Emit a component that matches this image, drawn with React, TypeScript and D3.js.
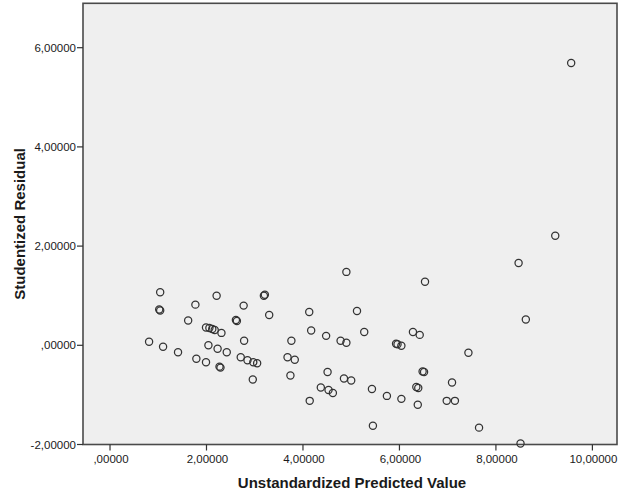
import React, { useEffect } from "react";
import * as d3 from "d3";

const predicted: number[] = [
  0.81, 1.04, 1.02, 1.04, 1.10, 1.41, 1.62, 1.77, 1.79, 1.99,
  2.06, 2.12, 2.17, 1.99, 2.04, 2.21, 2.23, 2.31, 2.27, 2.29,
  2.42, 2.61, 2.63, 2.71, 2.77, 2.78, 2.85, 2.97, 3.05, 2.96,
  3.19, 3.21, 3.30, 3.68, 3.83, 3.76, 3.74, 4.13, 4.17, 4.14,
  4.37, 4.48, 4.51, 4.53, 4.62, 4.78, 4.90, 4.85, 5.00, 4.90,
  5.12, 5.27, 5.43, 5.45, 5.74, 5.93, 5.96, 6.04, 6.04, 6.28,
  6.42, 6.35, 6.39, 6.38, 6.48, 6.51, 6.53, 6.98, 7.15, 7.09,
  7.43, 7.65, 8.47, 8.51, 8.62, 9.23, 9.56,
];

const residual: number[] = [
  0.07, 1.07, 0.72, 0.70, -0.03, -0.14, 0.50, 0.82, -0.27, 0.36,
  0.35, 0.33, 0.31, -0.34, 0.00, 1.00, -0.07, 0.25, -0.43, -0.45,
  -0.14, 0.51, 0.49, -0.24, 0.80, 0.09, -0.30, -0.34, -0.36, -0.69,
  1.00, 1.02, 0.61, -0.24, -0.29, 0.09, -0.61, 0.67, 0.30, -1.12,
  -0.85, 0.19, -0.54, -0.90, -0.96, 0.09, 0.05, -0.67, -0.71, 1.48,
  0.69, 0.27, -0.88, -1.62, -1.02, 0.03, 0.02, -0.01, -1.08, 0.27,
  0.21, -0.84, -0.86, -1.20, -0.53, -0.54, 1.28, -1.12, -1.12, -0.75,
  -0.15, -1.66, 1.66, -1.98, 0.52, 2.21, 5.69,
];

const xTicks: number[] = [0, 2, 4, 6, 8, 10];
const yTicks: number[] = [-2, 0, 2, 4, 6];
const xTitle = "Unstandardized Predicted Value";
const yTitle = "Studentized Residual";

const fmt = (v: number): string => {
  const s = Math.abs(v).toFixed(5).replace(".", ",");
  const body = s.startsWith("0,") ? s.slice(1) : s;
  return (v < 0 ? "-" : "") + body;
};

export default function App() {
  useEffect(() => {
    document.body.style.margin = "0";
  }, []);

  const W = 623;
  const H = 494;
  const left = 83;
  const right = 617;
  const top = 3.3;
  const bottom = 444.5;

  const x = d3.scaleLinear().domain([-0.56, 10.51]).range([left, right]);
  const y = d3.scaleLinear().domain([-2, 6.895]).range([bottom, top]);

  const font = "Arial, 'Liberation Sans', sans-serif";
  const pts = predicted.map((p, i) => [p, residual[i]] as [number, number]);

  return (
    <svg width={W} height={H} style={{ display: "block", background: "#fff" }}>
      <rect
        x={left}
        y={top}
        width={right - left}
        height={bottom - top}
        fill="#efefef"
        stroke="#4a4a4a"
        strokeWidth={1.6}
      />
      <g>
        {pts.map(([px, py], i) => (
          <circle
            key={i}
            cx={x(px)}
            cy={y(py)}
            r={3.6}
            fill="none"
            stroke="#333"
            strokeWidth={1.25}
          />
        ))}
      </g>
      {yTicks.map((t) => (
        <g key={"y" + t}>
          <line x1={left - 6} x2={left} y1={y(t)} y2={y(t)} stroke="#333" strokeWidth={1.2} />
          <text
            x={left - 7}
            y={y(t)}
            dy="0.35em"
            textAnchor="end"
            fontFamily={font}
            fontSize={11.5}
            fill="#1a1a1a"
          >
            {fmt(t)}
          </text>
        </g>
      ))}
      {xTicks.map((t) => (
        <g key={"x" + t}>
          <line x1={x(t)} x2={x(t)} y1={bottom} y2={bottom + 6} stroke="#333" strokeWidth={1.2} />
          <text
            x={x(t) + 1}
            y={bottom + 18}
            textAnchor="middle"
            fontFamily={font}
            fontSize={11.5}
            fill="#1a1a1a"
          >
            {fmt(t)}
          </text>
        </g>
      ))}
      <text
        x={(left + right) / 2 + 2}
        y={488}
        textAnchor="middle"
        fontFamily={font}
        fontSize={15}
        fontWeight="bold"
        fill="#1a1a1a"
      >
        {xTitle}
      </text>
      <text
        transform={`translate(25,${(top + bottom) / 2}) rotate(-90)`}
        textAnchor="middle"
        fontFamily={font}
        fontSize={15}
        fontWeight="bold"
        fill="#1a1a1a"
      >
        {yTitle}
      </text>
    </svg>
  );
}
